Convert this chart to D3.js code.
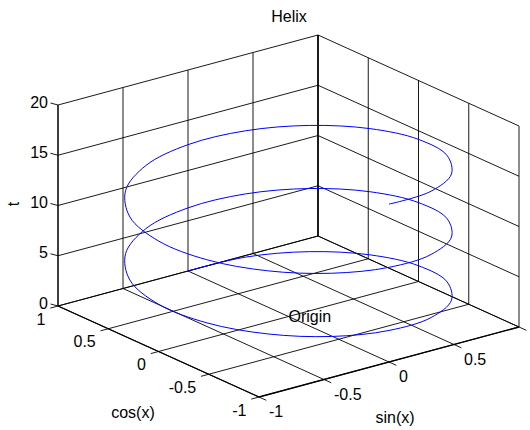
<!DOCTYPE html>
<html>
<head>
<meta charset="utf-8">
<script src="https://cdn.jsdelivr.net/npm/d3@7"></script>
<style>
  html, body { margin: 0; padding: 0; background: #fff; }
  text { font-family: "Liberation Sans", Arial, sans-serif; font-size: 16px; fill: #000; }
</style>
</head>
<body>
<svg id="chart" width="530" height="430"></svg>
<script>
// ---- data (helix samples read as t, sin(t), cos(t); t runs 0 .. 5*pi) ----
const tValues = [0, 0.39, 0.79, 1.18, 1.57, 1.96, 2.36, 2.75, 3.14, 3.53, 3.93, 4.32, 4.71, 5.11, 5.50, 5.89,
  6.28, 6.68, 7.07, 7.46, 7.85, 8.25, 8.64, 9.03, 9.42, 9.82, 10.21, 10.60, 11.00, 11.39, 11.78, 12.17,
  12.57, 12.96, 13.35, 13.74, 14.14, 14.53, 14.92, 15.32, 15.71];
const sinValues = [0, 0.383, 0.707, 0.924, 1, 0.924, 0.707, 0.383, 0, -0.383, -0.707, -0.924, -1, -0.924, -0.707, -0.383,
  0, 0.383, 0.707, 0.924, 1, 0.924, 0.707, 0.383, 0, -0.383, -0.707, -0.924, -1, -0.924, -0.707, -0.383,
  0, 0.383, 0.707, 0.924, 1, 0.924, 0.707, 0.383, 0];
const cosValues = [1, 0.924, 0.707, 0.383, 0, -0.383, -0.707, -0.924, -1, -0.924, -0.707, -0.383, 0, 0.383, 0.707, 0.924,
  1, 0.924, 0.707, 0.383, 0, -0.383, -0.707, -0.924, -1, -0.924, -0.707, -0.383, 0, 0.383, 0.707, 0.924,
  1, 0.924, 0.707, 0.383, 0, -0.383, -0.707, -0.924, -1];
const xTicks = [-1, -0.5, 0, 0.5, 1];        // sin(x)
const yTicks = [-1, -0.5, 0, 0.5, 1];        // cos(x)
const zTicks = [0, 5, 10, 15, 20];           // t
const xTickLabels = ["-1", "-0.5", "0", "0.5", ""];
const yTickLabels = ["-1", "-0.5", "0", "0.5", "1"];
const zTickLabels = ["0", "5", "10", "15", "20"];
const titleText = "Helix";
const xLabelText = "sin(x)";
const yLabelText = "cos(x)";
const zLabelText = "t";
const annotation = { text: "Origin", x: 0, y: 0, z: 0 };

// ---- projection (MATLAB default view az=-37.5, el=30) ----
const sx = d3.scaleLinear().domain([-1, 1]).range([0, 1]);
const sy = d3.scaleLinear().domain([-1, 1]).range([0, 1]);
const sz = d3.scaleLinear().domain([0, 20]).range([0, 1]);
const O = [259, 397], U = [260, -70], V = [-201, -91], W = [0, -201];
function proj(x, y, z) {
  const u = sx(x), v = sy(y), w = sz(z);
  return [O[0] + u * U[0] + v * V[0] + w * W[0], O[1] + u * U[1] + v * V[1] + w * W[1]];
}

const svg = d3.select("#chart");
const g = svg.append("g");
const seg = (a, b, cls, w) => g.append("line")
  .attr("x1", a[0]).attr("y1", a[1]).attr("x2", b[0]).attr("y2", b[1])
  .attr("stroke", "#000").attr("stroke-width", w || 0.9);

const xMin = -1, xMax = 1, yMin = -1, yMax = 1, zMin = 0, zMax = 20;

// floor grid
xTicks.forEach(x => seg(proj(x, yMin, zMin), proj(x, yMax, zMin)));
yTicks.forEach(y => seg(proj(xMin, y, zMin), proj(xMax, y, zMin)));
// back wall y = yMax
xTicks.forEach(x => seg(proj(x, yMax, zMin), proj(x, yMax, zMax)));
zTicks.forEach(z => seg(proj(xMin, yMax, z), proj(xMax, yMax, z)));
// back wall x = xMax
yTicks.forEach(y => seg(proj(xMax, y, zMin), proj(xMax, y, zMax)));
zTicks.forEach(z => seg(proj(xMax, yMin, z), proj(xMax, yMax, z)));

// axis lines
seg(proj(xMin, yMin, zMin), proj(xMax, yMin, zMin), null, 1.3);
seg(proj(xMin, yMin, zMin), proj(xMin, yMax, zMin), null, 1.3);
seg(proj(xMin, yMax, zMin), proj(xMin, yMax, zMax), null, 1.1);
seg(proj(xMax, yMax, zMin), proj(xMax, yMax, zMax), null, 1.3);

// ticks
const lenU = Math.hypot(U[0], U[1]), lenV = Math.hypot(V[0], V[1]);
const tickX = [-V[0] / lenV * 8, -V[1] / lenV * 8];
const tickY = [-U[0] / lenU * 8, -U[1] / lenU * 8];
const tickZ = [-7.5, -2];
xTicks.forEach((x, i) => {
  const p = proj(x, yMin, zMin);
  seg(p, [p[0] + tickX[0], p[1] + tickX[1]]);
  g.append("text").attr("x", p[0] + 10).attr("y", p[1] + 20).attr("text-anchor", "start").text(xTickLabels[i]);
});
yTicks.forEach((y, i) => {
  const p = proj(xMin, y, zMin);
  seg(p, [p[0] + tickY[0], p[1] + tickY[1]]);
  g.append("text").attr("x", p[0] - 12.5).attr("y", p[1] + 18.5).attr("text-anchor", "end").text(yTickLabels[i]);
});
zTicks.forEach((z, i) => {
  const p = proj(xMin, yMax, z);
  seg(p, [p[0] + tickZ[0], p[1] + tickZ[1]]);
  g.append("text").attr("x", p[0] - 10).attr("y", p[1] + 2.5).attr("text-anchor", "end").text(zTickLabels[i]);
});

// helix
const pts = tValues.map((t, i) => proj(sinValues[i], cosValues[i], t));
g.append("path")
  .attr("d", d3.line().curve(d3.curveCatmullRom.alpha(0.5))(pts))
  .attr("fill", "none").attr("stroke", "#0000ff").attr("stroke-width", 1);

// annotation
const ap = proj(annotation.x, annotation.y, annotation.z);
g.append("text").attr("x", ap[0]).attr("y", ap[1] + 5.5).attr("text-anchor", "start").text(annotation.text);

// labels
g.append("text").attr("x", 289).attr("y", 22).attr("text-anchor", "middle").text(titleText);
g.append("text").attr("x", 395).attr("y", 423).attr("text-anchor", "middle").text(xLabelText);
g.append("text").attr("x", 133).attr("y", 418).attr("text-anchor", "middle").text(yLabelText);
g.append("text").attr("transform", "translate(18.5,204) rotate(-90)").attr("text-anchor", "middle").text(zLabelText);
</script>
</body>
</html>
